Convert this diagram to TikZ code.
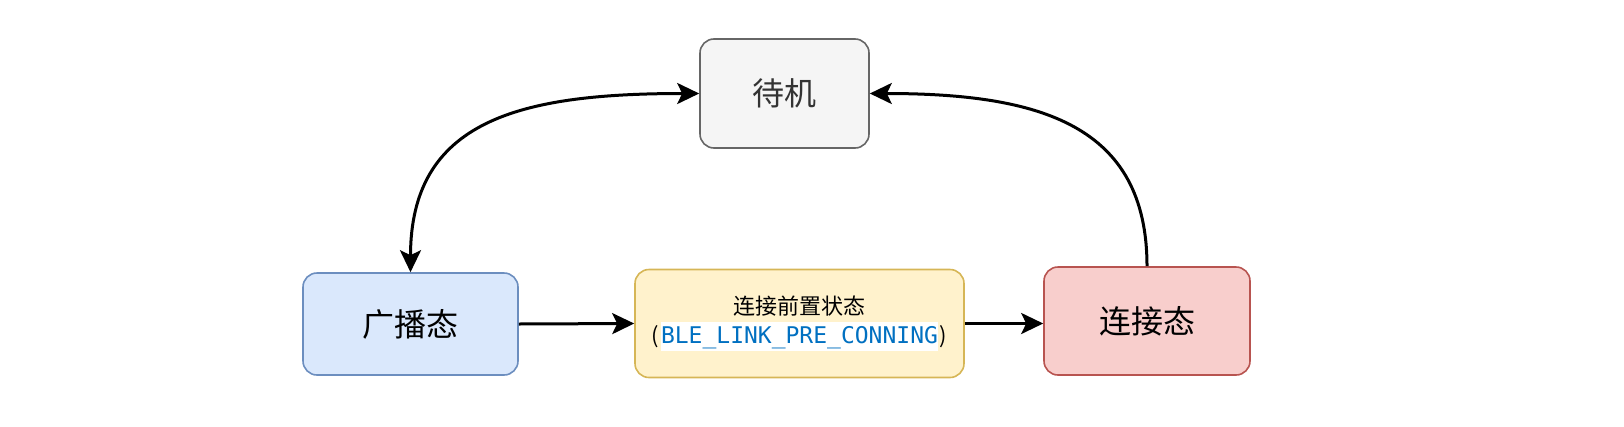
\documentclass[tikz,border=0pt]{standalone}
\usepackage{fontspec}
\newfontfamily\cjk{Noto Sans CJK SC}
\newfontfamily\codefont{DejaVu Sans Mono}
\usetikzlibrary{arrows.meta}
\definecolor{grayfill}{HTML}{F5F5F5}
\definecolor{graydraw}{HTML}{666666}
\definecolor{graytext}{HTML}{333333}
\definecolor{bluefill}{HTML}{DAE8FC}
\definecolor{bluedraw}{HTML}{6C8EBF}
\definecolor{yellowfill}{HTML}{FFF2CC}
\definecolor{yellowdraw}{HTML}{D6B656}
\definecolor{redfill}{HTML}{F8CECC}
\definecolor{reddraw}{HTML}{B85450}
\definecolor{codeblue}{HTML}{0070C1}
\begin{document}
\begin{tikzpicture}[x=1pt,y=-1pt,
  >={Stealth[length=22pt,width=21pt,inset=5pt]},
  state/.style={draw, rounded corners=14pt, line width=1.6pt, inner sep=0pt, align=center},
  bigtext/.style={font=\cjk\fontsize{32}{38}\selectfont},
  conn/.style={line width=3pt, ->}]
\useasboundingbox (0,0) rectangle (1624,426);
\node[state, bigtext, fill=grayfill, draw=graydraw, text=graytext, minimum width=169pt, minimum height=109pt] (dj) at (784.5,93.5) {待机};
\node[state, bigtext, fill=bluefill, draw=bluedraw, minimum width=215pt, minimum height=102pt] (bc) at (410.5,324) {广播态};
\node[state, fill=yellowfill, draw=yellowdraw, minimum width=329pt, minimum height=108pt, font=\cjk\fontsize{22}{29}\selectfont] (pre) at (799.5,323.5)
  {连接前置状态\\(\hspace{2pt}\setlength{\fboxsep}{0pt}\colorbox{white}{\rule[-7pt]{0pt}{29pt}\codefont\fontsize{23}{29}\selectfont\color{codeblue}BLE\_LINK\_PRE\_CONNING}\hspace{2pt})};
\node[state, bigtext, fill=redfill, draw=reddraw, minimum width=206pt, minimum height=108pt] (cn) at (1147,321) {连接态};
\draw[conn, <->] (bc.north) .. controls (410.5,120) and (520,93.5) .. (dj.west);
\draw[conn] (cn.north) .. controls (1147,125) and (1040,93.5) .. (dj.east);
\draw[conn] (bc.east) -- (pre.west);
\draw[conn] (pre.east) -- (pre.east -| cn.west);
\end{tikzpicture}
\end{document}
